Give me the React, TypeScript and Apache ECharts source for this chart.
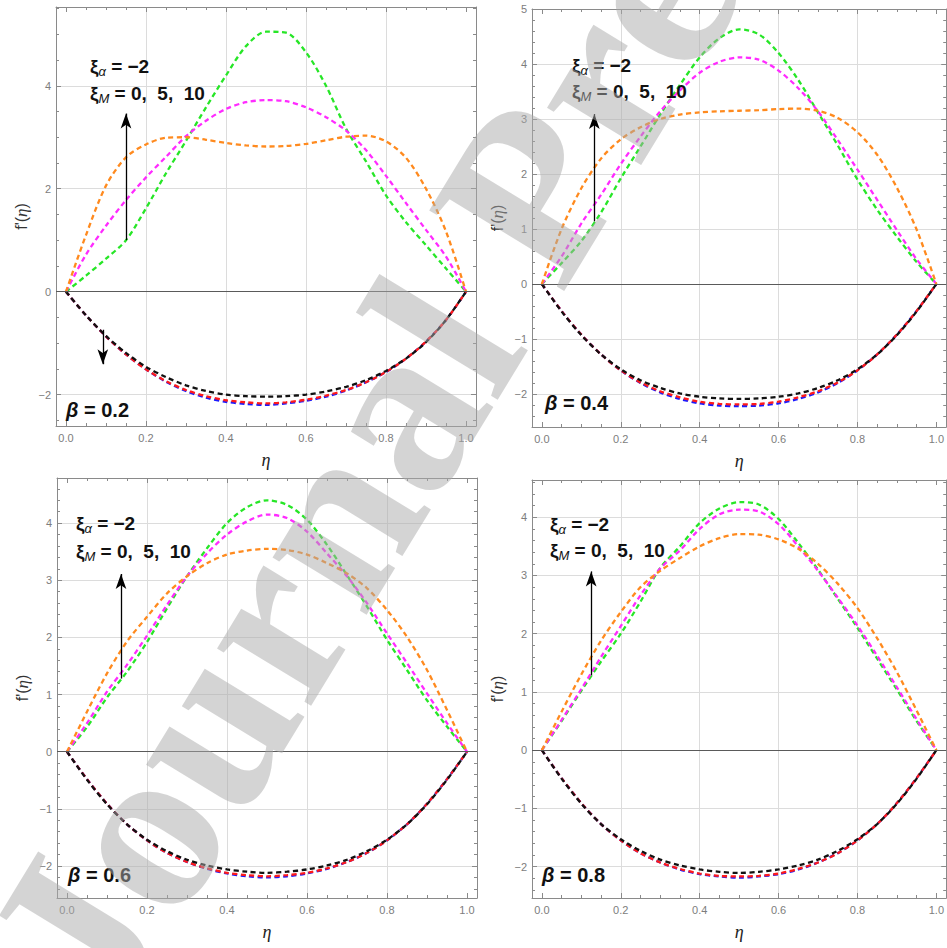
import React, { useEffect, useRef } from "react";
import * as echarts from "echarts";

// η sample points shared by every profile
const ETA = [0, 0.05, 0.1, 0.15, 0.2, 0.25, 0.3, 0.35, 0.4, 0.45, 0.5, 0.55, 0.6, 0.65, 0.7, 0.75, 0.8, 0.85, 0.9, 0.95, 1];

// β = 0.2 : upper branch for ξM = 0, 5, 10 and the lower branch (blue, red, black)
const B02_UP_XI0 = [0, 0.31, 0.64, 1.0, 1.62, 2.3, 2.93, 3.58, 4.2, 4.77, 5.05, 5.03, 4.65, 4.0, 3.17, 2.53, 1.87, 1.35, 0.9, 0.45, 0];
const B02_UP_XI5 = [0, 0.72, 1.28, 1.78, 2.22, 2.62, 3.02, 3.32, 3.55, 3.68, 3.72, 3.7, 3.58, 3.39, 3.13, 2.75, 2.25, 1.72, 1.2, 0.68, 0];
const B02_UP_XI10 = [0, 1.1, 2.06, 2.61, 2.86, 2.99, 3.0, 2.95, 2.89, 2.84, 2.82, 2.83, 2.87, 2.94, 3.01, 3.03, 2.92, 2.6, 2.0, 1.17, 0];
const B02_LO_BLUE = [0, -0.46, -0.87, -1.22, -1.51, -1.75, -1.93, -2.06, -2.14, -2.18, -2.2, -2.17, -2.12, -2.04, -1.92, -1.76, -1.56, -1.3, -0.97, -0.55, 0];
const B02_LO_RED = [0, -0.46, -0.87, -1.22, -1.51, -1.74, -1.91, -2.03, -2.11, -2.15, -2.17, -2.15, -2.1, -2.02, -1.91, -1.76, -1.56, -1.3, -0.97, -0.55, 0];
const B02_LO_BLACK = [0, -0.46, -0.86, -1.19, -1.46, -1.66, -1.82, -1.93, -2.0, -2.03, -2.04, -2.03, -2.0, -1.94, -1.85, -1.72, -1.54, -1.3, -0.98, -0.55, 0];

// β = 0.4
const B04_UP_XI0 = [0, 0.38, 0.78, 1.3, 1.92, 2.5, 3.08, 3.62, 4.12, 4.47, 4.63, 4.54, 4.2, 3.71, 3.12, 2.52, 1.9, 1.35, 0.86, 0.4, 0];
const B04_UP_XI5 = [0, 0.5, 1.1, 1.62, 2.18, 2.68, 3.14, 3.52, 3.84, 4.04, 4.12, 4.08, 3.88, 3.56, 3.14, 2.62, 2.08, 1.53, 0.98, 0.45, 0];
const B04_UP_XI10 = [0, 1.0, 1.74, 2.28, 2.63, 2.85, 3.0, 3.08, 3.12, 3.14, 3.15, 3.16, 3.18, 3.19, 3.15, 3.02, 2.76, 2.35, 1.75, 0.99, 0];
const B04_LO_BLUE = [0, -0.49, -0.92, -1.28, -1.57, -1.8, -1.97, -2.09, -2.17, -2.21, -2.22, -2.21, -2.17, -2.09, -1.97, -1.8, -1.57, -1.28, -0.92, -0.49, 0];
const B04_LO_RED = [0, -0.49, -0.92, -1.28, -1.57, -1.79, -1.95, -2.06, -2.14, -2.18, -2.19, -2.18, -2.14, -2.06, -1.95, -1.79, -1.57, -1.28, -0.92, -0.49, 0];
const B04_LO_BLACK = [0, -0.5, -0.93, -1.28, -1.55, -1.75, -1.89, -1.99, -2.05, -2.08, -2.09, -2.08, -2.05, -1.99, -1.89, -1.75, -1.55, -1.28, -0.93, -0.5, 0];

// β = 0.6
const B06_UP_XI0 = [0, 0.43, 0.95, 1.4, 1.92, 2.51, 3.07, 3.56, 4.0, 4.28, 4.4, 4.32, 4.06, 3.62, 3.09, 2.54, 1.96, 1.43, 0.9, 0.44, 0];
const B06_UP_XI5 = [0, 0.5, 1.05, 1.52, 2.03, 2.57, 3.07, 3.47, 3.8, 4.03, 4.15, 4.09, 3.85, 3.47, 3.07, 2.6, 2.07, 1.55, 1.02, 0.5, 0];
const B06_UP_XI10 = [0, 0.7, 1.37, 1.93, 2.36, 2.77, 3.07, 3.3, 3.45, 3.52, 3.55, 3.53, 3.45, 3.3, 3.12, 2.86, 2.48, 2.01, 1.43, 0.73, 0];
const B06_LO_BLUE = [0, -0.48, -0.91, -1.27, -1.55, -1.77, -1.93, -2.05, -2.13, -2.18, -2.2, -2.18, -2.13, -2.05, -1.93, -1.77, -1.55, -1.27, -0.91, -0.48, 0];
const B06_LO_RED = [0, -0.48, -0.91, -1.27, -1.55, -1.77, -1.93, -2.04, -2.12, -2.16, -2.18, -2.16, -2.12, -2.04, -1.93, -1.77, -1.55, -1.27, -0.91, -0.48, 0];
const B06_LO_BLACK = [0, -0.49, -0.92, -1.27, -1.54, -1.74, -1.89, -1.99, -2.06, -2.1, -2.12, -2.1, -2.06, -1.99, -1.89, -1.74, -1.54, -1.27, -0.92, -0.49, 0];

// β = 0.8
const B08_UP_XI0 = [0, 0.5, 1.02, 1.52, 2.0, 2.55, 3.13, 3.5, 3.9, 4.15, 4.26, 4.22, 3.97, 3.56, 3.1, 2.6, 2.1, 1.57, 1.04, 0.5, 0];
const B08_UP_XI5 = [0, 0.52, 1.05, 1.6, 2.13, 2.66, 3.12, 3.43, 3.8, 4.05, 4.13, 4.1, 3.88, 3.5, 3.08, 2.62, 2.14, 1.62, 1.08, 0.53, 0];
const B08_UP_XI10 = [0, 0.66, 1.3, 1.88, 2.37, 2.8, 3.08, 3.3, 3.5, 3.64, 3.71, 3.7, 3.62, 3.46, 3.2, 2.86, 2.44, 1.92, 1.34, 0.68, 0];
const B08_LO_BLUE = [0, -0.48, -0.91, -1.27, -1.55, -1.77, -1.93, -2.05, -2.13, -2.17, -2.19, -2.17, -2.13, -2.05, -1.93, -1.77, -1.55, -1.27, -0.91, -0.48, 0];
const B08_LO_RED = [0, -0.48, -0.91, -1.27, -1.55, -1.77, -1.93, -2.04, -2.12, -2.16, -2.17, -2.16, -2.12, -2.04, -1.93, -1.77, -1.55, -1.27, -0.91, -0.48, 0];
const B08_LO_BLACK = [0, -0.49, -0.92, -1.27, -1.53, -1.73, -1.88, -1.98, -2.05, -2.09, -2.11, -2.09, -2.05, -1.98, -1.88, -1.73, -1.53, -1.27, -0.92, -0.49, 0];

// Tick and grid positions
const X_TICKS = [0, 0.2, 0.4, 0.6, 0.8, 1];
const X_MINOR = [0.05, 0.1, 0.15, 0.25, 0.3, 0.35, 0.45, 0.5, 0.55, 0.65, 0.7, 0.75, 0.85, 0.9, 0.95];
const X_GRID = [0.2, 0.4, 0.6, 0.8];
const Y_TICKS_BY2 = [-2, 0, 2, 4];
const Y_MINOR_BY2 = [-2.5, -1.5, -1, -0.5, 0.5, 1, 1.5, 2.5, 3, 3.5, 4.5, 5, 5.5];
const Y_GRID_BY2 = [-2, 2, 4];
const Y_TICKS_BY1 = [-2, -1, 0, 1, 2, 3, 4, 5];
const Y_MINOR_BY1 = [-2.4, -2.2, -1.8, -1.6, -1.4, -1.2, -0.8, -0.6, -0.4, -0.2, 0.2, 0.4, 0.6, 0.8, 1.2, 1.4, 1.6, 1.8, 2.2, 2.4, 2.6, 2.8, 3.2, 3.4, 3.6, 3.8, 4.2, 4.4, 4.6, 4.8];
const Y_GRID_BY1 = [-2, -1, 1, 2, 3, 4];

const UPPER_COLORS = ["#27e627", "#ff2bff", "#ff8a1e"];
const LOWER_COLORS = ["#1a1aff", "#ff1a1a", "#111111"];

const FRAME = "#8a8a8a";
const GRID_LINE = "#dcdcdc";
const TICK_LABEL = "#7d7d7d";
const SANS = "Liberation Sans";

const PANELS = [
  {
    beta: "0.2",
    box: { left: 56, top: 7, width: 420, height: 419 },
    yRange: [-2.61, 5.53],
    yTicks: Y_TICKS_BY2, yMinor: Y_MINOR_BY2, yGrid: Y_GRID_BY2,
    upper: [B02_UP_XI0, B02_UP_XI5, B02_UP_XI10],
    lower: [B02_LO_BLUE, B02_LO_RED, B02_LO_BLACK],
    arrows: [[0.15, 1.0, 3.46], [0.092, -0.74, -1.41]],
    xiAt: [90, 66, 93],
    betaAt: [66, 410],
  },
  {
    beta: "0.4",
    box: { left: 532, top: 9, width: 420, height: 418 },
    yRange: [-2.6, 5.0],
    yTicks: Y_TICKS_BY1, yMinor: Y_MINOR_BY1, yGrid: Y_GRID_BY1,
    upper: [B04_UP_XI0, B04_UP_XI5, B04_UP_XI10],
    lower: [B04_LO_BLUE, B04_LO_RED, B04_LO_BLACK],
    arrows: [[0.133, 1.14, 3.09]],
    xiAt: [572, 65, 91],
    betaAt: [545, 403],
  },
  {
    beta: "0.6",
    box: { left: 57, top: 478, width: 420, height: 420 },
    yRange: [-2.56, 4.79],
    yTicks: Y_TICKS_BY1, yMinor: Y_MINOR_BY1, yGrid: Y_GRID_BY1,
    upper: [B06_UP_XI0, B06_UP_XI5, B06_UP_XI10],
    lower: [B06_LO_BLUE, B06_LO_RED, B06_LO_BLACK],
    arrows: [[0.135, 1.28, 3.11]],
    xiAt: [76, 523, 551],
    betaAt: [68, 875],
  },
  {
    beta: "0.8",
    box: { left: 532, top: 480, width: 420, height: 418 },
    yRange: [-2.54, 4.64],
    yTicks: Y_TICKS_BY1, yMinor: Y_MINOR_BY1, yGrid: Y_GRID_BY1,
    upper: [B08_UP_XI0, B08_UP_XI5, B08_UP_XI10],
    lower: [B08_LO_BLUE, B08_LO_RED, B08_LO_BLACK],
    arrows: [[0.125, 1.29, 3.07]],
    xiAt: [550, 524, 550],
    betaAt: [542, 875],
  },
];

const AXES_PER_GRID = 5;

const fmtX = (v: number) => v.toFixed(1);
const fmtY = (v: number) => (v < 0 ? "\u2212" + -v : String(v));

// Five axes per dimension and grid: labelled near side, near minor ticks,
// far side frame with ticks, far minor ticks and one carrying the grid lines.
function frameAxes(
  dim: "x" | "y",
  gi: number,
  min: number,
  max: number,
  ticks: number[],
  minor: number[],
  grid: number[],
  fmt: (v: number) => string,
  nameOpts: any
) {
  const near = dim === "x" ? "bottom" : "left";
  const far = dim === "x" ? "top" : "right";
  const base: any = {
    type: "value",
    gridIndex: gi,
    min,
    max,
    axisLine: { show: false, onZero: false },
    axisTick: { show: false },
    axisLabel: { show: false },
    splitLine: { show: false },
  };
  const tickAxis = (position: string, values: number[], length: number, withLine: boolean) => ({
    ...base,
    position,
    axisLine: { show: withLine, onZero: false, lineStyle: { color: FRAME, width: 1 } },
    axisTick: { show: true, inside: true, length, customValues: values, lineStyle: { color: FRAME, width: 1 } },
  });
  const main = {
    ...tickAxis(near, ticks, 5, true),
    axisLabel: {
      show: true,
      customValues: ticks,
      formatter: fmt,
      color: TICK_LABEL,
      fontFamily: SANS,
      fontSize: 11,
      margin: dim === "x" ? 6 : 5,
    },
    ...nameOpts,
  };
  return [
    main,
    tickAxis(near, minor, 3, false),
    tickAxis(far, ticks, 5, true),
    tickAxis(far, minor, 3, false),
    {
      ...base,
      position: near,
      axisTick: { show: false, customValues: grid },
      splitLine: { show: true, lineStyle: { color: GRID_LINE, width: 1 } },
    },
  ];
}

const RICH: any = {
  g: { fontFamily: SANS, fontWeight: "bold", fontSize: 19, fill: "#111", lineHeight: 24, verticalAlign: "middle" },
  s: { fontFamily: SANS, fontStyle: "italic", fontSize: 13, fill: "#111", lineHeight: 11, verticalAlign: "bottom" },
  b: { fontFamily: SANS, fontStyle: "italic", fontWeight: "bold", fontSize: 20, fill: "#111", lineHeight: 24 },
  n: { fontFamily: SANS, fontWeight: "bold", fontSize: 20, fill: "#111", lineHeight: 24 },
};

function label(x: number, y: number, text: string) {
  return {
    type: "text",
    x,
    y,
    z: 20,
    silent: true,
    style: { text, rich: RICH, align: "left", verticalAlign: "middle", textAlign: "left", textVerticalAlign: "middle" },
  };
}

function buildOption() {
  const grid: any[] = [];
  const xAxis: any[] = [];
  const yAxis: any[] = [];
  const series: any[] = [];
  const graphic: any[] = [];

  PANELS.forEach((p, gi) => {
    grid.push({ ...p.box, show: false });
    xAxis.push(
      ...frameAxes("x", gi, -0.025, 1.025, X_TICKS, X_MINOR, X_GRID, fmtX, {
        name: "\u03b7",
        nameLocation: "middle",
        nameGap: 25,
        nameTextStyle: { fontFamily: "Liberation Serif", fontStyle: "italic", fontSize: 18, color: "#222" },
      })
    );
    yAxis.push(
      ...frameAxes("y", gi, p.yRange[0], p.yRange[1], p.yTicks, p.yMinor, p.yGrid, fmtY, {
        name: "{r|f'(}{i|\u03b7}{r|)}",
        nameLocation: "middle",
        nameGap: 26,
        nameTextStyle: {
          rich: {
            r: { fontFamily: SANS, fontSize: 16, color: "#333" },
            i: { fontFamily: "Liberation Serif", fontStyle: "italic", fontSize: 17, color: "#333" },
          },
        },
      })
    );

    const axisIdx = { xAxisIndex: gi * AXES_PER_GRID, yAxisIndex: gi * AXES_PER_GRID };

    // axis line through f'(η) = 0
    series.push({
      type: "line",
      ...axisIdx,
      data: [],
      z: 1,
      silent: true,
      markLine: {
        silent: true,
        symbol: "none",
        label: { show: false },
        lineStyle: { color: "#5a5a5a", width: 1.2, type: "solid" },
        data: [{ yAxis: 0 }],
      },
    });

    const curve = (values: number[], color: string, name: string) => ({
      type: "line",
      name,
      ...axisIdx,
      data: ETA.map((e, k) => [e, values[k]]),
      showSymbol: false,
      symbol: "none",
      smooth: 0.3,
      silent: true,
      z: 2,
      lineStyle: { color, width: 2.3, type: [5, 3.5] },
    });
    p.lower.forEach((vals, k) => series.push(curve(vals, LOWER_COLORS[k], `lower-${k}`)));
    p.upper.forEach((vals, k) => series.push(curve(vals, UPPER_COLORS[k], `upper-${k}`)));

    // direction arrows for increasing ξM
    series.push({
      type: "line",
      ...axisIdx,
      data: [],
      z: 5,
      silent: true,
      markLine: {
        silent: true,
        label: { show: false },
        lineStyle: { color: "#000", width: 1.3, type: "solid" },
        data: p.arrows.map(([x, y0, y1]) => [
          { coord: [x, y0], symbol: "none" },
          { coord: [x, y1], symbol: "arrow", symbolSize: [8, 15] },
        ]),
      },
    });

    const [lx, ly1, ly2] = p.xiAt;
    graphic.push(label(lx, ly1, "{g|\u03be}{s|\u03b1}{g| = \u22122}"));
    graphic.push(label(lx, ly2, "{g|\u03be}{s|M}{g| = 0,\u00a0\u00a05,\u00a0\u00a010}"));
    graphic.push(label(p.betaAt[0], p.betaAt[1], `{b|\u03b2}{n| = ${p.beta}}`));
  });

  // journal watermark laid over the figure
  graphic.push({
    type: "text",
    x: 44,
    y: 988,
    rotation: 1.023,
    z: 100,
    silent: true,
    style: {
      text: "Journal Pre-proof",
      font: 'bold 240px "Liberation Serif"',
      fill: "rgba(170,170,170,0.5)",
      align: "left",
      verticalAlign: "middle",
      textAlign: "left",
      textVerticalAlign: "middle",
    },
  });

  return {
    animation: false,
    backgroundColor: "#ffffff",
    grid,
    xAxis,
    yAxis,
    series,
    graphic,
  };
}

export default function App() {
  const ref = useRef<HTMLDivElement>(null);
  useEffect(() => {
    if (!ref.current) return;
    const chart = echarts.init(ref.current, undefined, { renderer: "svg" });
    chart.setOption(buildOption() as any);
    return () => chart.dispose();
  }, []);
  return (
    <div
      ref={ref}
      style={{ position: "fixed", left: 0, top: 0, width: 947, height: 948, background: "#fff" }}
    />
  );
}
